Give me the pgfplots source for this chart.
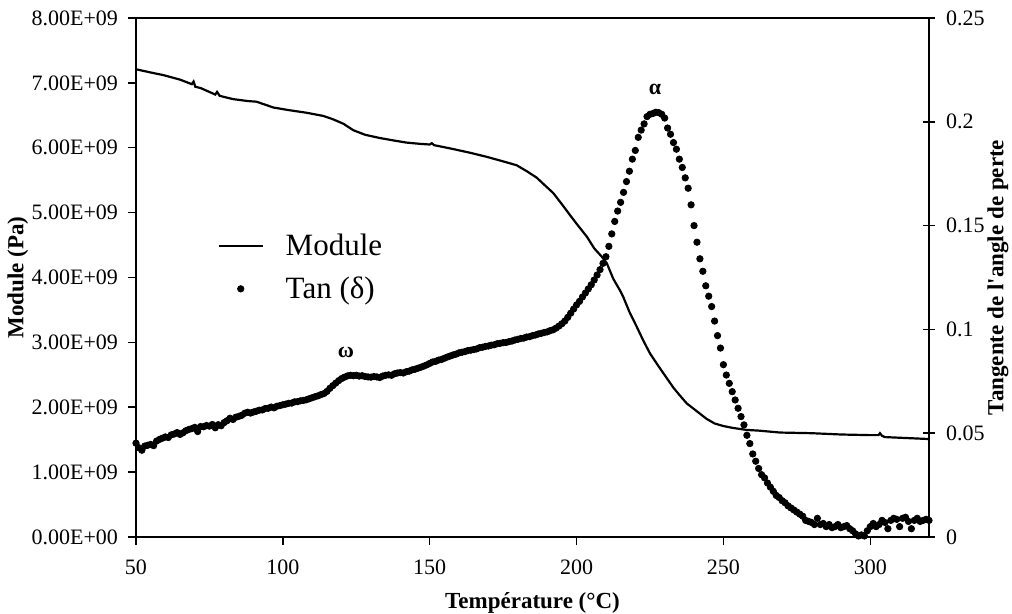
\documentclass[border=0pt]{standalone}
\usepackage{pgfplots}
\pgfplotsset{compat=1.18}
\usepackage{pgfplotstable}
\usepackage{fontspec}
\setmainfont{Liberation Serif}

\pgfplotsset{
  linelegend/.style={legend image code/.code={\draw[##1] (0pt,0pt) -- (22pt,0pt);}},
  dotlegend/.style={legend image code/.code={\draw[mark repeat=2,mark phase=2,##1] plot coordinates {(0pt,0pt) (11pt,0pt) (22pt,0pt)};}},
}

\pgfplotstableread{
T E
50 7.21e9
55 7.16e9
59.3 7.12e9
65 7.05e9
69 6.98e9
69.6 7.02e9
70.2 6.94e9
72 6.92e9
77 6.82e9
77.6 6.86e9
78.5 6.80e9
83 6.75e9
88 6.72e9
91 6.71e9
96.8 6.62e9
102 6.58e9
108 6.54e9
113.8 6.49e9
117 6.44e9
120.6 6.37e9
124 6.27e9
128 6.20e9
133 6.15e9
138 6.11e9
142 6.08e9
146.7 6.06e9
150 6.05e9
150.7 6.07e9
151.5 6.04e9
158 5.98e9
164 5.92e9
169.4 5.86e9
175 5.79e9
179.6 5.73e9
183 5.64e9
186.4 5.54e9
189 5.43e9
192.1 5.30e9
195 5.13e9
197.8 4.96e9
200.5 4.80e9
203.5 4.63e9
206 4.45e9
208.6 4.32e9
210.3 4.22e9
212.5 3.98e9
214.8 3.80e9
215.9 3.70e9
218 3.47e9
220.5 3.24e9
222.7 3.03e9
225 2.83e9
227.8 2.64e9
230.7 2.45e9
233 2.30e9
235.2 2.18e9
237.5 2.06e9
240.9 1.94e9
244.3 1.82e9
247 1.75e9
250 1.71e9
253.4 1.68e9
258 1.65e9
262 1.64e9
269.3 1.61e9
280 1.60e9
290 1.58e9
300 1.57e9
302.8 1.57e9
303.3 1.60e9
304 1.56e9
305 1.54e9
310 1.53e9
315 1.52e9
320 1.51e9
}\moduledata

\pgfplotstableread{
T tan
50 .0452
51 .0430
52 .0418
53 .0438
54 .0442
55 .0446
56 .0440
57 .0462
58 .0470
59 .0476
60 .0482
61 .0479
62 .0492
63 .0496
64 .0503
65 .0494
66 .0502
67 .0512
68 .0518
69 .0522
70 .0528
71 .0508
72 .0532
73 .0531
74 .0537
75 .0534
76 .0542
77 .0526
78 .0541
79 .0536
80 .0551
81 .0560
82 .0572
83 .0566
84 .0577
85 .0581
86 .0586
87 .0596
88 .0601
89 .0597
90 .0602
91 .0606
92 .0611
93 .0612
94 .0619
95 .0620
96 .0626
97 .0622
98 .0630
99 .0633
100 .0637
101 .0640
102 .0644
103 .0645
104 .0651
105 .0652
106 .0656
107 .0658
108 .0661
109 .0666
110 .0671
111 .0676
112 .0680
113 .0686
114 .0691
115 .0701
116 .0716
117 .0729
118 .0741
119 .0753
120 .0763
121 .0770
122 .0776
123 .0779
124 .0777
125 .0779
126 .0775
127 .0777
128 .0773
129 .0771
130 .0770
131 .0773
132 .0771
133 .0768
134 .0775
135 .0779
136 .0781
137 .0779
138 .0786
139 .0790
140 .0792
141 .0790
142 .0796
143 .0799
144 .0805
145 .0808
146 .0813
147 .0818
148 .0823
149 .0829
150 .0836
151 .0843
152 .0846
153 .0852
154 .0855
155 .0861
156 .0867
157 .0872
158 .0877
159 .0881
160 .0887
161 .0890
162 .0893
163 .0898
164 .0900
165 .0903
166 .0906
167 .0912
168 .0914
169 .0918
170 .0920
171 .0924
172 .0926
173 .0931
174 .0933
175 .0936
176 .0937
177 .0941
178 .0944
179 .0949
180 .0952
181 .0956
182 .0958
183 .0963
184 .0965
185 .0970
186 .0973
187 .0978
188 .0981
189 .0985
190 .0988
191 .0994
192 .0998
193 .1006
194 .1016
195 .1027
196 .1040
197 .1058
198 .1078
199 .1098
200 .1118
201 .1135
202 .1156
203 .1175
204 .1195
205 .1215
206 .1238
207 .1262
208 .1288
209 .1318
210 .1350
211 .1400
212 .1460
213 .1520
214 .1570
215 .1612
216 .1660
217 .1712
218 .1762
219 .1820
220 .1862
221 .1925
222 .1960
223 .1990
224 .2025
225 .2036
226 .2040
227 .2046
228 .2044
229 .2036
230 .2018
231 .1970
232 .1940
233 .1900
234 .1868
235 .1820
236 .1780
237 .1730
238 .1680
239 .1600
240 .1500
241 .1420
242 .1340
243 .1280
244 .1210
245 .1160
246 .1110
247 .1040
248 .0970
249 .0910
250 .0830
251 .0780
252 .0740
253 .0700
254 .0660
255 .0620
256 .0580
257 .0540
258 .0490
259 .0450
260 .0400
261 .0365
262 .0330
263 .0300
264 .0285
265 .0260
266 .0240
267 .0220
268 .0200
269 .0190
270 .0175
271 .0165
272 .0150
273 .0140
274 .0130
275 .0120
276 .0110
277 .0100
278 .0080
279 .0075
280 .0070
281 .0060
282 .0090
283 .0060
284 .0065
285 .0050
286 .0060
287 .0045
288 .0050
289 .0060
290 .0045
291 .0050
292 .0055
293 .0040
294 .0030
295 .0015
296 .0005
297 .0010
298 .0005
299 .0030
300 .0050
301 .0065
302 .0050
303 .0060
304 .0080
305 .0070
306 .0040
307 .0080
308 .0090
309 .0085
310 .0050
311 .0090
312 .0095
313 .0075
314 .0040
315 .0080
316 .0090
317 .0075
318 .0080
319 .0085
320 .0080
}\tandata

\begin{document}
\begin{tikzpicture}
\useasboundingbox (-68pt,-38.5pt) rectangle (438pt,268.5pt);
\pgfplotsset{
  common/.style={
    width=396.5pt, height=259.5pt, scale only axis,
    at={(0,0)}, anchor=south west,
    xmin=50, xmax=320,
    scaled x ticks=false, scaled y ticks=false,
    tick label style={font=\fontsize{11}{12}\selectfont},
    label style={font=\fontsize{11.5}{13}\selectfont\bfseries},
    axis line style={line width=0.75pt},
    tick style={line width=0.75pt, black},
  }
}
\begin{axis}[common,
  ymin=0, ymax=8e9,
  xtick={50,100,150,200,250,300},
  xticklabels={50,100,150,200,250,300},
  ytick={0,1e9,2e9,3e9,4e9,5e9,6e9,7e9,8e9},
  yticklabels={0.00E+00,1.00E+09,2.00E+09,3.00E+09,4.00E+09,5.00E+09,6.00E+09,7.00E+09,8.00E+09},
  xtick pos=left, ytick pos=left,
  tick align=outside, major tick length=4pt,
  xticklabel style={yshift=-4pt},
  yticklabel style={xshift=-1.5pt},
  xlabel={Température (°C)},
  ylabel={Module (Pa)},
  xlabel style={at={(axis description cs:0.5,-0.127)}, anchor=center},
  ylabel style={at={(axis description cs:-0.149,0.5)}, anchor=center},
  clip=false,
]
\addplot[black, line width=1.1pt] table[x=T, y=E] {\moduledata};
\end{axis}
\begin{axis}[common,
  ymin=0, ymax=0.25,
  axis y line*=right, axis x line=none,
  ytick={0,0.05,0.1,0.15,0.2,0.25},
  yticklabels={0,0.05,0.1,0.15,0.2,0.25},
  tick align=center, major tick length=6pt,
  yticklabel style={xshift=2pt},
  ylabel={Tangente de l\textquotesingle angle de perte},
  ylabel style={at={(axis description cs:1.087,0.5)}, anchor=center},
  clip=false,
  legend style={draw=none, fill=none, at={(0.095,0.60)}, anchor=north west,
    font=\fontsize{15.5}{18}\selectfont, row sep=5pt,
    nodes={inner xsep=11pt}},
  legend cell align=left,
]
\addlegendimage{black, line width=1pt, linelegend}
\addlegendentry{Module}
\addplot[black, only marks, mark=*, mark size=1.6pt, dotlegend]
  table[x=T, y=tan] {\tandata};
\addlegendentry{Tan (δ)}
\node[font=\fontsize{11}{12}\selectfont\bfseries] at (axis cs:121.5,0.0888) {ω};
\node[font=\fontsize{11}{12}\selectfont\bfseries] at (axis cs:226.7,0.2158) {α};
\end{axis}
\end{tikzpicture}
\end{document}
